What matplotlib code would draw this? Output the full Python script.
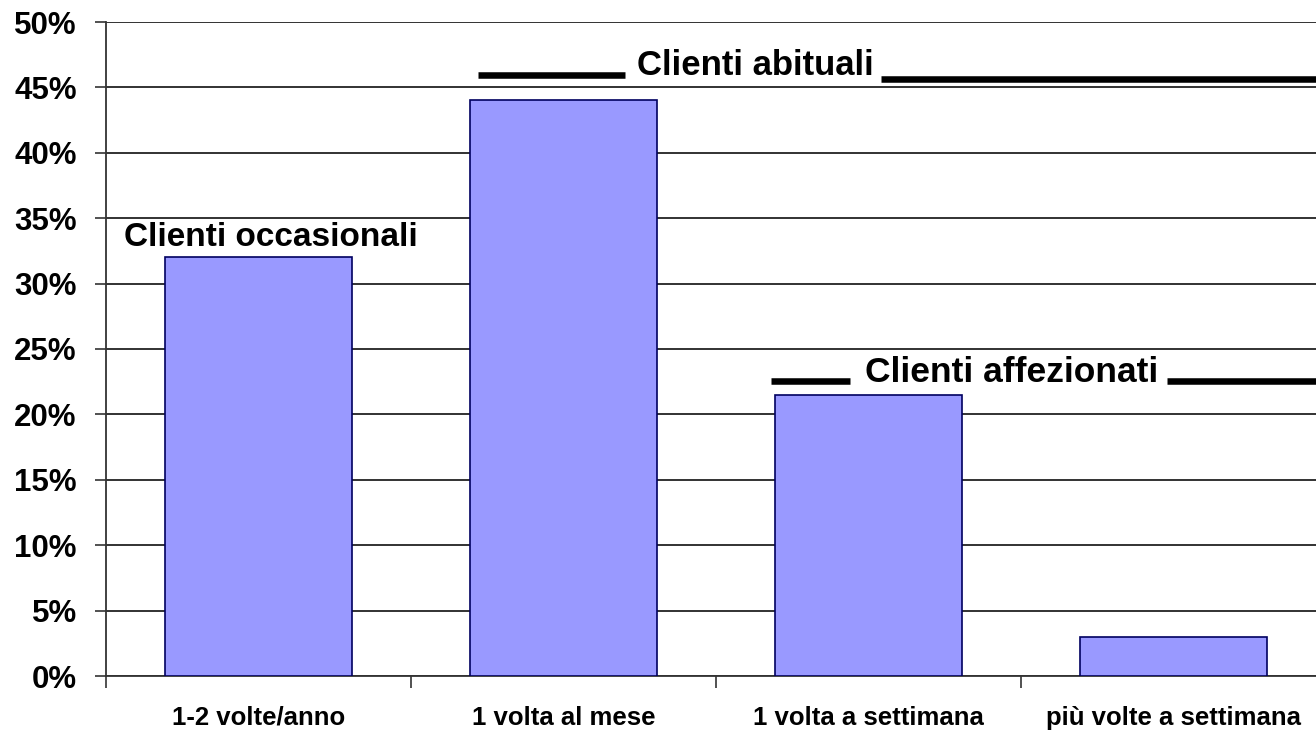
import matplotlib
matplotlib.use("Agg")
import matplotlib.pyplot as plt
from matplotlib.ticker import FixedLocator, PercentFormatter

categories = ["1-2 volte/anno", "1 volta al mese", "1 volta a settimana", "più volte a settimana"]
values = [32, 44, 21.5, 3]
yticks = [0, 5, 10, 15, 20, 25, 30, 35, 40, 45, 50]

plt.rcParams['font.family'] = ['Liberation Sans', 'DejaVu Sans']

fig = plt.figure(figsize=(13.16, 7.31), dpi=100)
ax = fig.add_axes([106/1316, 1-676/731, 1220/1316, (676-22)/731])

x = list(range(len(categories)))
ax.bar(x, values, width=0.613, color='#9999FF', edgecolor='#000060', linewidth=1.2, zorder=3)

ax.set_xlim(-0.5, 3.5)
ax.set_ylim(0, 50)
ax.set_yticks(yticks)
ax.yaxis.set_major_formatter(PercentFormatter(decimals=0))
ax.yaxis.grid(True, color='#222222', linewidth=1.3, zorder=0)
ax.set_axisbelow(True)

ax.set_xticks(x)
ax.set_xticklabels(categories, fontsize=18.5, fontweight='bold')
ax.xaxis.set_minor_locator(FixedLocator([-0.5, 0.5, 1.5, 2.5]))
ax.tick_params(axis='x', which='major', length=0, pad=21.5)
ax.tick_params(axis='x', which='minor', length=8.5, width=1.2, color='#333333')
ax.tick_params(axis='y', length=8, width=1.2, color='#333333', labelsize=22.5, pad=13)
for lab in ax.get_yticklabels():
    lab.set_fontweight('bold')

for s in ['top', 'right']:
    ax.spines[s].set_visible(False)
for s in ['left', 'bottom']:
    ax.spines[s].set_color('#333333')
    ax.spines[s].set_linewidth(1.3)

# Annotations
ax.text(0.04, 32.85, "Clienti occasionali", ha='center', va='baseline', fontsize=24, fontweight='bold', zorder=5)
ax.text(1.63, 45.95, "Clienti abituali", ha='center', va='baseline', fontsize=25, fontweight='bold', zorder=5)
ax.plot([0.72, 1.20], [45.95, 45.95], color='black', lw=4.7, clip_on=False, zorder=5, solid_capstyle='butt')
ax.plot([2.04, 3.6], [45.64, 45.64], color='black', lw=4.7, clip_on=False, zorder=5, solid_capstyle='butt')
ax.text(2.47, 22.5, "Clienti affezionati", ha='center', va='baseline', fontsize=25.5, fontweight='bold', zorder=5)
ax.plot([1.68, 1.94], [22.55, 22.55], color='black', lw=4.7, clip_on=False, zorder=5, solid_capstyle='butt')
ax.plot([2.98, 3.6], [22.55, 22.55], color='black', lw=4.7, clip_on=False, zorder=5, solid_capstyle='butt')

fig.savefig("out.png", dpi=100)
